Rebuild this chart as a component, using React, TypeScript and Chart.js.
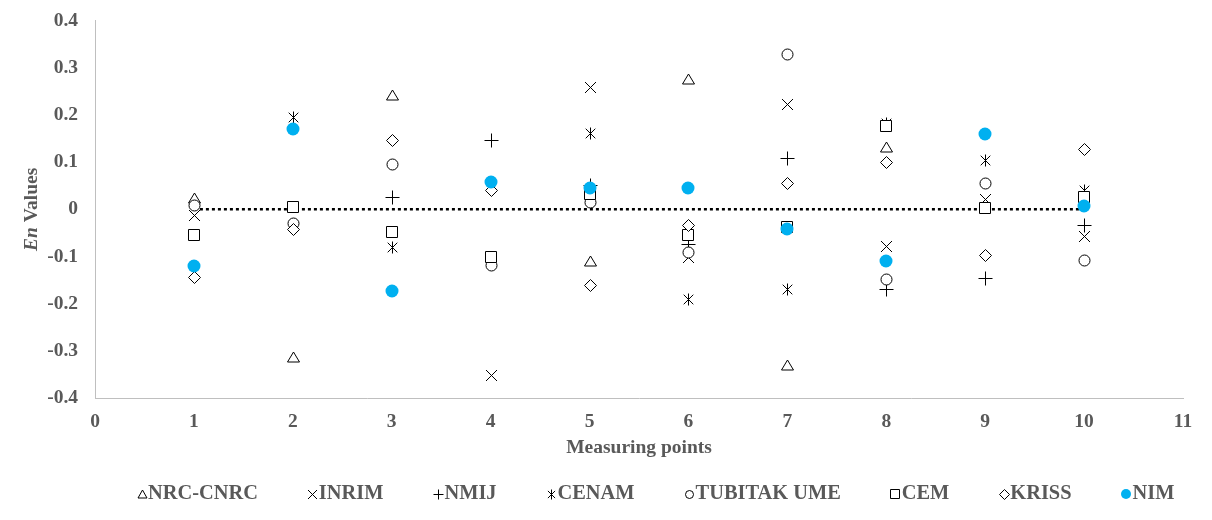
import React, { useEffect, useRef } from "react";
import { Chart, registerables } from "chart.js";

Chart.register(...registerables);

// ---------- data ----------
const MEASURING_POINTS = [1, 2, 3, 4, 5, 6, 7, 8, 9, 10];

const NRC_CNRC = [0.025, -0.314, 0.242, null, -0.11, 0.276, -0.331, 0.133, null, null];
const INRIM = [-0.012, null, null, -0.352, 0.259, -0.1, 0.224, -0.078, 0.023, -0.056];
const NMIJ = [null, null, 0.027, 0.147, 0.052, -0.073, 0.108, -0.168, -0.145, -0.033];
const CENAM = [null, 0.196, -0.08, null, 0.162, -0.19, -0.169, 0.183, 0.105, 0.04];
const TUBITAK_UME = [0.01, -0.03, 0.097, -0.118, 0.015, -0.09, 0.329, -0.147, 0.055, -0.107];
const CEM = [-0.055, 0.005, -0.049, -0.102, 0.033, -0.054, -0.038, 0.177, 0.002, 0.027];
const KRISS = [-0.143, -0.042, 0.148, 0.04, -0.16, -0.033, 0.055, 0.101, -0.096, 0.129];
const NIM = [-0.12, 0.171, -0.173, 0.059, 0.046, 0.045, -0.042, -0.11, 0.16, 0.008];
const ZERO_LINE = [0, 0, 0, 0, 0, 0, 0, 0, 0, 0];

const SERIES_NAMES = ["NRC-CNRC", "INRIM", "NMIJ", "CENAM", "TUBITAK UME", "CEM", "KRISS", "NIM"];
const SERIES_VALUES = [NRC_CNRC, INRIM, NMIJ, CENAM, TUBITAK_UME, CEM, KRISS, NIM];

const X_MIN = 0;
const X_MAX = 11;
const Y_MIN = -0.4;
const Y_MAX = 0.4;
const Y_STEP = 0.1;

const X_TITLE = "Measuring points";
const Y_TITLE_ITALIC = "En";
const Y_TITLE_REST = " Values";

// ---------- styles ----------
const FONT = '"Liberation Serif", "Times New Roman", serif';
const GRAY = "#595959";
const AXIS_COLOR = "#bfbfbf";
const NIM_BLUE = "#00B0F0";

type MarkerKind = "triangle" | "cross" | "plus" | "asterisk" | "circle" | "square" | "diamond" | "dot";
const SERIES_MARKERS: MarkerKind[] = ["triangle", "cross", "plus", "asterisk", "circle", "square", "diamond", "dot"];
const MARKER_SIZES = [12, 11, 13, 12, 12, 12, 12, 13];

function drawMarker(ctx: CanvasRenderingContext2D, kind: MarkerKind, px: number, py: number, size: number) {
  const cx = Math.round(px) + 0.5;
  const cy = Math.round(py) + 0.5;
  const h = size / 2;
  ctx.save();
  ctx.lineWidth = 1;
  ctx.strokeStyle = "#000";
  ctx.fillStyle = "#fff";
  ctx.beginPath();
  switch (kind) {
    case "triangle": {
      const top = Math.round(cy - h);
      const bot = Math.round(cy + h * 0.8);
      ctx.moveTo(cx, top);
      ctx.lineTo(cx + h, bot);
      ctx.lineTo(cx - h, bot);
      ctx.closePath();
      ctx.fill();
      ctx.stroke();
      break;
    }
    case "circle":
      ctx.arc(cx, cy, h - 0.5, 0, Math.PI * 2);
      ctx.fill();
      ctx.stroke();
      break;
    case "square": {
      const hh = Math.round(h);
      ctx.rect(cx - hh, cy - hh, hh * 2 - 1, hh * 2 - 1);
      ctx.fill();
      ctx.stroke();
      break;
    }
    case "diamond": {
      const hh = Math.round(h);
      ctx.moveTo(cx, cy - hh);
      ctx.lineTo(cx + hh, cy);
      ctx.lineTo(cx, cy + hh);
      ctx.lineTo(cx - hh, cy);
      ctx.closePath();
      ctx.fill();
      ctx.stroke();
      break;
    }
    case "cross":
      ctx.moveTo(cx - h, cy - h);
      ctx.lineTo(cx + h, cy + h);
      ctx.moveTo(cx + h, cy - h);
      ctx.lineTo(cx - h, cy + h);
      ctx.stroke();
      break;
    case "plus": {
      const hh = Math.round(h);
      ctx.moveTo(cx - hh, cy);
      ctx.lineTo(cx + hh, cy);
      ctx.moveTo(cx, cy - hh);
      ctx.lineTo(cx, cy + hh);
      ctx.stroke();
      break;
    }
    case "asterisk": {
      const a = h * 0.8;
      const hh = Math.round(h);
      ctx.moveTo(cx - a, cy - a);
      ctx.lineTo(cx + a, cy + a);
      ctx.moveTo(cx + a, cy - a);
      ctx.lineTo(cx - a, cy + a);
      ctx.moveTo(cx, cy - hh);
      ctx.lineTo(cx, cy + hh);
      ctx.stroke();
      break;
    }
    case "dot":
      ctx.fillStyle = NIM_BLUE;
      ctx.arc(cx - 0.5, cy - 0.5, h, 0, Math.PI * 2);
      ctx.fill();
      break;
  }
  ctx.restore();
}

const LEGEND_LEFT = 137;
const LEGEND_Y = 494;
const LEGEND_GAP = 50;
const LEGEND_MARKER_SIZE = 9;
const LEGEND_FONT_SIZE = 20.4;
const AXIS_FONT_SIZE = 19.5;

export default function App() {
  const canvasRef = useRef<HTMLCanvasElement | null>(null);

  useEffect(() => {
    if (!canvasRef.current) return;

    const datasets: any[] = SERIES_NAMES.map((name, i) => ({
      type: "scatter",
      label: name,
      data: MEASURING_POINTS.map((x, j) => ({ x, y: SERIES_VALUES[i][j] })),
      showLine: false,
      pointRadius: 0,
      pointHoverRadius: 0,
    }));
    datasets.push({
      type: "line",
      label: "zero",
      data: MEASURING_POINTS.map((x, j) => ({ x, y: ZERO_LINE[j] })),
      borderColor: "#000",
      borderWidth: 2.5,
      borderDash: [3, 3],
      pointRadius: 0,
      fill: false,
    });

    const markerPlugin = {
      id: "markers",
      afterDatasetsDraw(chart: any) {
        const ctx = chart.ctx as CanvasRenderingContext2D;
        SERIES_NAMES.forEach((_, i) => {
          const meta = chart.getDatasetMeta(i);
          meta.data.forEach((el: any, j: number) => {
            const v = SERIES_VALUES[i][j];
            if (v === null || v === undefined || el.skip) return;
            drawMarker(ctx, SERIES_MARKERS[i], el.x, el.y, MARKER_SIZES[i]);
          });
        });
      },
    };

    const textPlugin = {
      id: "customText",
      afterDraw(chart: any) {
        const ctx = chart.ctx as CanvasRenderingContext2D;
        const area = chart.chartArea;
        ctx.save();
        // X title
        ctx.fillStyle = GRAY;
        ctx.font = `bold ${AXIS_FONT_SIZE}px ${FONT}`;
        ctx.textAlign = "center";
        ctx.textBaseline = "middle";
        ctx.fillText(X_TITLE, (area.left + area.right) / 2, 448);

        // Y title
        ctx.save();
        ctx.translate(32, (area.top + area.bottom) / 2);
        ctx.rotate(-Math.PI / 2);
        ctx.textAlign = "left";
        const italicFont = `italic bold ${AXIS_FONT_SIZE}px ${FONT}`;
        const boldFont = `bold ${AXIS_FONT_SIZE}px ${FONT}`;
        ctx.font = italicFont;
        const w1 = ctx.measureText(Y_TITLE_ITALIC).width;
        ctx.font = boldFont;
        const w2 = ctx.measureText(Y_TITLE_REST).width;
        const start = -(w1 + w2) / 2;
        ctx.font = italicFont;
        ctx.fillText(Y_TITLE_ITALIC, start, 0);
        ctx.font = boldFont;
        ctx.fillText(Y_TITLE_REST, start + w1, 0);
        ctx.restore();

        // Legend
        ctx.font = `bold ${LEGEND_FONT_SIZE}px ${FONT}`;
        ctx.textAlign = "left";
        ctx.textBaseline = "middle";
        let x = LEGEND_LEFT;
        SERIES_NAMES.forEach((name, i) => {
          const mw = LEGEND_MARKER_SIZE;
          const size = SERIES_MARKERS[i] === "dot" ? 10 : mw;
          drawMarker(ctx, SERIES_MARKERS[i], x + mw / 2, LEGEND_Y, size);
          const tx = x + mw + 2;
          ctx.fillStyle = GRAY;
          ctx.font = `bold ${LEGEND_FONT_SIZE}px ${FONT}`;
          ctx.fillText(name, tx, LEGEND_Y);
          x = tx + ctx.measureText(name).width + LEGEND_GAP;
        });
        ctx.restore();
      },
    };

    const chart = new Chart(canvasRef.current, {
      type: "scatter",
      data: { datasets },
      options: {
        animation: false,
        responsive: false,
        devicePixelRatio: 1,
        layout: { padding: { left: 0, right: 29, top: 8, bottom: 0 } },
        plugins: {
          legend: { display: false },
          tooltip: { enabled: false },
        },
        scales: {
          x: {
            type: "linear",
            min: X_MIN,
            max: X_MAX,
            grid: { display: false },
            border: { display: true, color: AXIS_COLOR, width: 1 },
            ticks: {
              stepSize: 1,
              color: GRAY,
              font: { family: FONT, size: AXIS_FONT_SIZE, weight: "bold" },
              padding: 4,
              maxRotation: 0,
            },
            afterFit: (s: any) => {
              s.height = 122;
            },
          },
          y: {
            type: "linear",
            min: Y_MIN,
            max: Y_MAX,
            grid: { display: false },
            border: { display: true, color: AXIS_COLOR, width: 1 },
            ticks: {
              stepSize: Y_STEP,
              color: GRAY,
              font: { family: FONT, size: AXIS_FONT_SIZE, weight: "bold" },
              padding: 9,
              callback: (v: any) => {
                const n = Math.round(Number(v) * 10) / 10;
                return n === 0 ? "0" : n.toFixed(1);
              },
            },
            afterFit: (s: any) => {
              s.width = 95;
            },
          },
        },
      },
      plugins: [markerPlugin, textPlugin],
    } as any);

    return () => chart.destroy();
  }, []);

  return (
    <div style={{ position: "absolute", left: 0, top: 0, width: 1212, height: 520, background: "#fff" }}>
      <canvas ref={canvasRef} width={1212} height={520} style={{ display: "block" }} />
    </div>
  );
}
